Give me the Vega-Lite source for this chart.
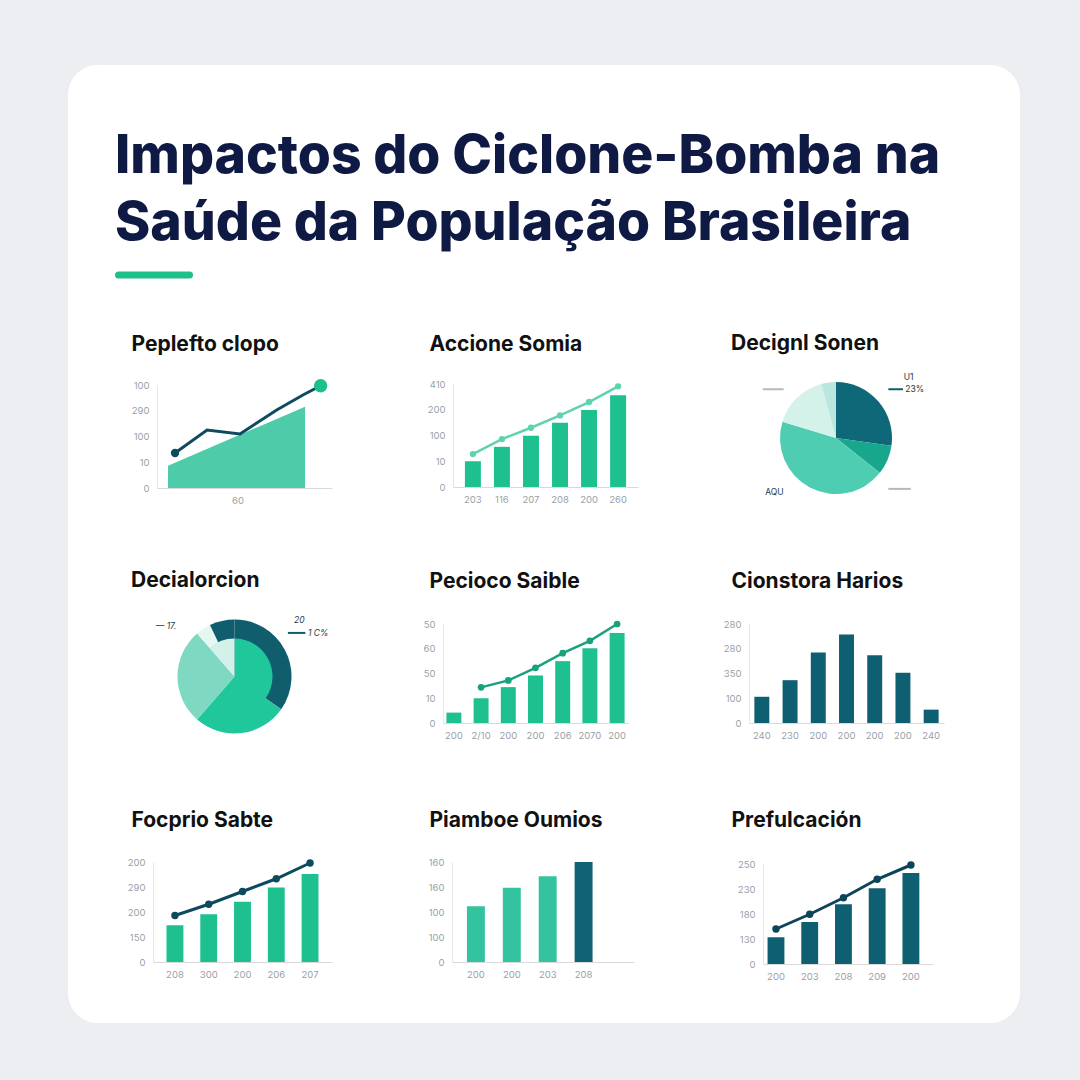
{
  "$schema": "https://vega.github.io/schema/vega-lite/v6.json",
  "width": 952,
  "height": 958,
  "autosize": "none",
  "padding": {"left": 68, "top": 65, "right": 60, "bottom": 57},
  "background": "#eceef1",
  "view": {"fill": "#ffffff", "stroke": null, "cornerRadius": 30},
  "title": {"text": ["Impactos do Ciclone-Bomba na", "Saúde da População Brasileira"], "fontSize": 53.5, "fontWeight": 800, "font": "Inter", "color": "#0f1a44", "anchor": "start", "frame": "group", "lineHeight": 67, "dx": 47, "offset": -186},
  "config": {
    "font": "Inter",
    "axis": {"labelFont": "Inter", "labelFontSize": 9.5, "labelColor": "#9aa0a6", "ticks": false, "grid": false, "domain": false, "titleFont": "Inter", "titleFontSize": 21, "titleFontWeight": "bold", "titleColor": "#111111", "titleLimit": 400},
    "axisY": {"grid": true, "gridColor": "#efefef", "domain": true, "domainColor": "#e6e6e6", "labelPadding": 8},
    "axisX": {"domain": true, "domainColor": "#d9d9d9", "labelPadding": 7, "labelAngle": 0}
  },
  "datasets": {
    "p1area": [{"x": 6.3, "v": 0.86}, {"x": 84.6, "v": 3.16}],
    "p1line": [{"x": 10.3, "v": 1.36}, {"x": 28.6, "v": 2.25}, {"x": 47.4, "v": 2.1}, {"x": 68.4, "v": 3.03}, {"x": 83.4, "v": 3.61}, {"x": 93.5, "v": 3.97}],
    "p2": [{"slot": 1, "bar": 1.0, "trend": 1.28}, {"slot": 2, "bar": 1.56, "trend": 1.86}, {"slot": 3, "bar": 1.99, "trend": 2.3}, {"slot": 4, "bar": 2.5, "trend": 2.78}, {"slot": 5, "bar": 2.99, "trend": 3.3}, {"slot": 6, "bar": 3.56, "trend": 3.91}],
    "p3": [{"k": 1, "part": "A", "deg": 98}, {"k": 2, "part": "B", "deg": 30.5}, {"k": 3, "part": "C", "deg": 158.5}, {"k": 4, "part": "D", "deg": 57.8}, {"k": 5, "part": "E", "deg": 15.2}],
    "p3gray": [{"x0": -0.95, "x1": -0.68, "y": 0.92}, {"x0": 0.68, "x1": 0.97, "y": -0.96}],
    "p3dark": [{"x0": 0.68, "x1": 0.87, "y": 0.92}],
    "p3text": [{"x": 0.88, "y": 1.15, "t": "U1"}, {"x": 0.9, "y": 0.92, "t": "23%"}, {"x": -0.92, "y": -1.02, "t": "AQU"}],
    "p4outer": [{"k": 1, "part": "dark", "deg": 125}, {"k": 2, "part": "green", "deg": 96}, {"k": 3, "part": "light", "deg": 98}, {"k": 4, "part": "pale", "deg": 15.5}, {"k": 5, "part": "dark", "deg": 25.5}],
    "p4inner": [{"k": 1, "part": "green", "deg": 125}, {"k": 2, "part": "gap", "deg": 194}, {"k": 3, "part": "soft", "deg": 41}],
    "p4dark": [{"x0": 0.61, "x1": 0.81, "y": 0.83}],
    "p4text": [{"x": -0.9, "y": 0.96, "t": "— 17."}, {"x": 0.68, "y": 1.08, "t": "20"}, {"x": 0.84, "y": 0.83, "t": "1 C%"}],
    "p5": [{"slot": 1, "bar": 0.42, "trend": null}, {"slot": 2, "bar": 1.0, "trend": 1.44}, {"slot": 3, "bar": 1.45, "trend": 1.72}, {"slot": 4, "bar": 1.92, "trend": 2.23}, {"slot": 5, "bar": 2.5, "trend": 2.82}, {"slot": 6, "bar": 3.02, "trend": 3.32}, {"slot": 7, "bar": 3.64, "trend": 4.0}],
    "p6": [{"slot": 1, "bar": 1.06}, {"slot": 2, "bar": 1.73}, {"slot": 3, "bar": 2.85}, {"slot": 4, "bar": 3.58}, {"slot": 5, "bar": 2.74}, {"slot": 6, "bar": 2.03}, {"slot": 7, "bar": 0.54}],
    "p7": [{"slot": 1, "bar": 1.47, "trend": 1.86}, {"slot": 2, "bar": 1.91, "trend": 2.31}, {"slot": 3, "bar": 2.41, "trend": 2.82}, {"slot": 4, "bar": 2.98, "trend": 3.33}, {"slot": 5, "bar": 3.52, "trend": 3.96}],
    "p8": [{"slot": 1, "bar": 2.23, "grp": "A"}, {"slot": 2, "bar": 2.97, "grp": "A"}, {"slot": 3, "bar": 3.43, "grp": "A"}, {"slot": 4, "bar": 4.0, "grp": "B"}],
    "p9": [{"slot": 1, "bar": 1.07, "trend": 1.4}, {"slot": 2, "bar": 1.68, "trend": 1.99}, {"slot": 3, "bar": 2.39, "trend": 2.65}, {"slot": 4, "bar": 3.03, "trend": 3.39}, {"slot": 5, "bar": 3.64, "trend": 3.96}]
  },
  "resolve": {"scale": {"x": "independent", "y": "independent", "color": "independent", "theta": "independent"}, "axis": {"x": "independent", "y": "independent"}},
  "layer": [
    {
      "data": {"values": [{}]},
      "mark": {"type": "rule", "strokeWidth": 7, "strokeCap": "round", "color": "#1fbf8a"},
      "encoding": {
        "x": {"datum": 0, "type": "quantitative", "scale": {"domain": [0, 1], "range": [50.5, 121.5]}, "axis": null},
        "x2": {"datum": 1},
        "y": {"datum": 0, "type": "quantitative", "scale": {"domain": [0, 1], "range": [210, 200]}, "axis": null}
      }
    },
    {
      "layer": [
        {
          "data": {"name": "p1area"},
          "mark": {"type": "area", "color": "#4ecba8", "opacity": 1},
          "encoding": {
            "x": {"field": "x", "type": "quantitative", "scale": {"domain": [0, 100], "nice": false, "range": [89, 264]}, "axis": {"orient": "bottom", "offset": -535, "values": [46], "labelExpr": "'60'", "title": null}},
            "y": {"field": "v", "type": "quantitative", "scale": {"domain": [0, 4], "nice": false, "range": [423, 320]}, "axis": {"orient": "left", "offset": -89, "values": [0, 1, 2, 3, 4], "labelExpr": "['0','10','100','290','100'][datum.value]", "title": "Peplefto clopo", "titleX": -26, "titleY": 279, "titleAngle": 0, "titleAlign": "left", "titleBaseline": "middle"}}
          }
        },
        {
          "data": {"name": "p1line"},
          "mark": {"type": "line", "color": "#0d4b5f", "strokeWidth": 3},
          "encoding": {
            "x": {"field": "x", "type": "quantitative"},
            "y": {"field": "v", "type": "quantitative"}
          }
        },
        {
          "data": {"name": "p1line"},
          "transform": [{"filter": "datum.x < 15"}],
          "mark": {"type": "point", "filled": true, "color": "#0d4b5f", "size": 70, "opacity": 1},
          "encoding": {
            "x": {"field": "x", "type": "quantitative"},
            "y": {"field": "v", "type": "quantitative"}
          }
        },
        {
          "data": {"name": "p1line"},
          "transform": [{"filter": "datum.x > 90"}],
          "mark": {"type": "point", "filled": true, "color": "#1dbf8e", "size": 180, "opacity": 1},
          "encoding": {
            "x": {"field": "x", "type": "quantitative"},
            "y": {"field": "v", "type": "quantitative"}
          }
        }
      ]
    },
    {
      "data": {"name": "p2"},
      "encoding": {
        "x": {"field": "slot", "type": "ordinal", "scale": {"range": [385, 570], "paddingInner": 0.45, "paddingOuter": 0.41}, "axis": {"orient": "bottom", "offset": -536, "labelExpr": "['203','116','207','208','200','260'][datum.value-1]", "title": null}}
      },
      "layer": [
        {
          "mark": {"type": "bar", "color": "#1ec08f"},
          "encoding": {"y": {"field": "bar", "type": "quantitative", "scale": {"domain": [0, 4], "nice": false, "range": [422, 319]}, "axis": {"orient": "left", "offset": -385, "values": [0, 1, 2, 3, 4], "labelExpr": "['0','10','100','200','410'][datum.value]", "title": "Accione Somia", "titleX": -24, "titleY": 279, "titleAngle": 0, "titleAlign": "left", "titleBaseline": "middle"}}}
        },
        {
          "mark": {"type": "line", "color": "#5fd3ad", "strokeWidth": 2.5, "point": {"filled": true, "size": 40, "color": "#5fd3ad"}},
          "encoding": {"y": {"field": "trend", "type": "quantitative"}}
        }
      ]
    },
    {
      "layer": [
        {
          "data": {"name": "p3"},
          "mark": {"type": "arc", "outerRadius": 56},
          "encoding": {
            "x": {"datum": 0, "type": "quantitative", "scale": {"domain": [-1, 1], "nice": false, "range": [691, 845]}, "axis": null},
            "y": {"datum": 0, "type": "quantitative", "scale": {"domain": [-1, 1], "nice": false, "range": [426, 320]}, "axis": null},
            "theta": {"field": "deg", "type": "quantitative", "stack": true},
            "order": {"field": "k", "type": "quantitative"},
            "color": {"field": "part", "type": "nominal", "legend": null, "scale": {"domain": ["A", "B", "C", "D", "E"], "range": ["#0f6877", "#18a68d", "#4ecdb3", "#d4f1ea", "#b9e6df"]}}
          }
        },
        {
          "data": {"name": "p3gray"},
          "mark": {"type": "rule", "color": "#b8b8b8", "strokeWidth": 2},
          "encoding": {
            "x": {"field": "x0", "type": "quantitative"},
            "x2": {"field": "x1"},
            "y": {"field": "y", "type": "quantitative"}
          }
        },
        {
          "data": {"name": "p3dark"},
          "mark": {"type": "rule", "color": "#0f5e6e", "strokeWidth": 2},
          "encoding": {
            "x": {"field": "x0", "type": "quantitative"},
            "x2": {"field": "x1"},
            "y": {"field": "y", "type": "quantitative"}
          }
        },
        {
          "data": {"name": "p3text"},
          "mark": {"type": "text", "align": "left", "baseline": "middle", "fontSize": 8.5, "color": "#1d3a4a", "font": "Inter"},
          "encoding": {
            "x": {"field": "x", "type": "quantitative"},
            "y": {"field": "y", "type": "quantitative"},
            "text": {"field": "t"}
          }
        },
        {
          "data": {"values": [{"t": "Decignl Sonen"}]},
          "mark": {"type": "text", "align": "left", "baseline": "middle", "fontSize": 21, "fontWeight": "bold", "color": "#111111", "font": "Inter"},
          "encoding": {
            "x": {"datum": -1.364, "type": "quantitative"},
            "y": {"datum": 1.774, "type": "quantitative"},
            "text": {"field": "t"}
          }
        }
      ]
    },
    {
      "layer": [
        {
          "data": {"name": "p4outer"},
          "mark": {"type": "arc", "outerRadius": 57},
          "encoding": {
            "x": {"datum": 0, "type": "quantitative", "scale": {"domain": [-1, 1], "nice": false, "range": [79, 254]}, "axis": null},
            "y": {"datum": 0, "type": "quantitative", "scale": {"domain": [-1, 1], "nice": false, "range": [664, 559]}, "axis": null},
            "theta": {"field": "deg", "type": "quantitative", "stack": true},
            "order": {"field": "k", "type": "quantitative"},
            "color": {"field": "part", "type": "nominal", "legend": null, "scale": {"domain": ["dark", "green", "light", "pale", "soft", "gap"], "range": ["#0f5d6d", "#1fc79b", "#7fd8c2", "#e6f7f2", "#d3f1e9", "rgba(0,0,0,0)"]}}
          }
        },
        {
          "data": {"name": "p4inner"},
          "mark": {"type": "arc", "outerRadius": 38},
          "encoding": {
            "x": {"datum": 0, "type": "quantitative"},
            "y": {"datum": 0, "type": "quantitative"},
            "theta": {"field": "deg", "type": "quantitative", "stack": true},
            "order": {"field": "k", "type": "quantitative"},
            "color": {"field": "part", "type": "nominal", "legend": null}
          }
        },
        {
          "data": {"name": "p4dark"},
          "mark": {"type": "rule", "color": "#0f5e6e", "strokeWidth": 2},
          "encoding": {
            "x": {"field": "x0", "type": "quantitative"},
            "x2": {"field": "x1"},
            "y": {"field": "y", "type": "quantitative"}
          }
        },
        {
          "data": {"name": "p4text"},
          "mark": {"type": "text", "align": "left", "baseline": "middle", "fontSize": 8.5, "color": "#1d3a4a", "font": "Inter", "fontStyle": "italic"},
          "encoding": {
            "x": {"field": "x", "type": "quantitative"},
            "y": {"field": "y", "type": "quantitative"},
            "text": {"field": "t"}
          }
        },
        {
          "data": {"values": [{"t": "Decialorcion"}]},
          "mark": {"type": "text", "align": "left", "baseline": "middle", "fontSize": 21, "fontWeight": "bold", "color": "#111111", "font": "Inter"},
          "encoding": {
            "x": {"datum": -1.183, "type": "quantitative"},
            "y": {"datum": 1.819, "type": "quantitative"},
            "text": {"field": "t"}
          }
        }
      ]
    },
    {
      "data": {"name": "p5"},
      "encoding": {
        "x": {"field": "slot", "type": "ordinal", "scale": {"range": [375, 560], "paddingInner": 0.45, "paddingOuter": 0.125}, "axis": {"orient": "bottom", "offset": -300, "labelExpr": "['200','2/10','200','200','206','2070','200'][datum.value-1]", "title": null}}
      },
      "layer": [
        {
          "mark": {"type": "bar", "color": "#1ec08f"},
          "encoding": {"y": {"field": "bar", "type": "quantitative", "scale": {"domain": [0, 4], "nice": false, "range": [658, 559]}, "axis": {"orient": "left", "offset": -375, "values": [0, 1, 2, 3, 4], "labelExpr": "['0','10','50','60','50'][datum.value]", "title": "Pecioco Saible", "titleX": -14, "titleY": 516, "titleAngle": 0, "titleAlign": "left", "titleBaseline": "middle"}}}
        },
        {
          "mark": {"type": "line", "color": "#17a27e", "strokeWidth": 2.5, "point": {"filled": true, "size": 45, "color": "#17a27e"}},
          "encoding": {"y": {"field": "trend", "type": "quantitative"}}
        }
      ]
    },
    {
      "data": {"name": "p6"},
      "mark": {"type": "bar", "color": "#0f5f73"},
      "encoding": {
        "x": {"field": "slot", "type": "ordinal", "scale": {"range": [681, 876], "paddingInner": 0.47, "paddingOuter": 0.19}, "axis": {"orient": "bottom", "offset": -300, "labelExpr": "['240','230','200','200','200','200','240'][datum.value-1]", "title": null}},
        "y": {"field": "bar", "type": "quantitative", "scale": {"domain": [0, 4], "nice": false, "range": [658, 559]}, "axis": {"orient": "left", "offset": -681, "values": [0, 1, 2, 3, 4], "labelExpr": "['0','100','350','280','280'][datum.value]", "title": "Cionstora Harios", "titleX": -18, "titleY": 516, "titleAngle": 0, "titleAlign": "left", "titleBaseline": "middle"}}
      }
    },
    {
      "data": {"name": "p7"},
      "encoding": {
        "x": {"field": "slot", "type": "ordinal", "scale": {"range": [85, 264], "paddingInner": 0.5, "paddingOuter": 0.4}, "axis": {"orient": "bottom", "offset": -61, "labelExpr": "['208','300','200','206','207'][datum.value-1]", "title": null}}
      },
      "layer": [
        {
          "mark": {"type": "bar", "color": "#1ec08f"},
          "encoding": {"y": {"field": "bar", "type": "quantitative", "scale": {"domain": [0, 4], "nice": false, "range": [897, 797]}, "axis": {"orient": "left", "offset": -85, "values": [0, 1, 2, 3, 4], "labelExpr": "['0','150','200','290','200'][datum.value]", "title": "Focprio Sabte", "titleX": -22, "titleY": 755, "titleAngle": 0, "titleAlign": "left", "titleBaseline": "middle"}}}
        },
        {
          "mark": {"type": "line", "color": "#0d4a5e", "strokeWidth": 3, "point": {"filled": true, "size": 55, "color": "#0d4a5e"}},
          "encoding": {"y": {"field": "trend", "type": "quantitative"}}
        }
      ]
    },
    {
      "data": {"name": "p8"},
      "mark": {"type": "bar"},
      "encoding": {
        "x": {"field": "slot", "type": "ordinal", "scale": {"domain": [1, 2, 3, 4, 5], "range": [384, 566], "paddingInner": 0.5, "paddingOuter": 0.285, "align": 0.73}, "axis": {"orient": "bottom", "offset": -61, "values": [1, 2, 3, 4], "labelExpr": "['200','200','203','208'][datum.value-1]", "title": null}},
        "y": {"field": "bar", "type": "quantitative", "scale": {"domain": [0, 4], "nice": false, "range": [897, 797]}, "axis": {"orient": "left", "offset": -384, "values": [0, 1, 2, 3, 4], "labelExpr": "['0','100','100','160','160'][datum.value]", "title": "Piamboe Oumios", "titleX": -23, "titleY": 755, "titleAngle": 0, "titleAlign": "left", "titleBaseline": "middle"}},
        "color": {"field": "grp", "type": "nominal", "legend": null, "scale": {"domain": ["A", "B"], "range": ["#33c49f", "#0e6273"]}}
      }
    },
    {
      "data": {"name": "p9"},
      "encoding": {
        "x": {"field": "slot", "type": "ordinal", "scale": {"range": [695, 865], "paddingInner": 0.5, "paddingOuter": 0.27, "align": 0.25}, "axis": {"orient": "bottom", "offset": -59, "labelExpr": "['200','203','208','209','200'][datum.value-1]", "title": null}}
      },
      "layer": [
        {
          "mark": {"type": "bar", "color": "#0f5f73"},
          "encoding": {"y": {"field": "bar", "type": "quantitative", "scale": {"domain": [0, 4], "nice": false, "range": [899, 799]}, "axis": {"orient": "left", "offset": -695, "values": [0, 1, 2, 3, 4], "labelExpr": "['0','130','180','230','250'][datum.value]", "title": "Prefulcación", "titleX": -32, "titleY": 755, "titleAngle": 0, "titleAlign": "left", "titleBaseline": "middle"}}}
        },
        {
          "mark": {"type": "line", "color": "#0d4459", "strokeWidth": 3, "point": {"filled": true, "size": 55, "color": "#0d4459"}},
          "encoding": {"y": {"field": "trend", "type": "quantitative"}}
        }
      ]
    }
  ]
}
